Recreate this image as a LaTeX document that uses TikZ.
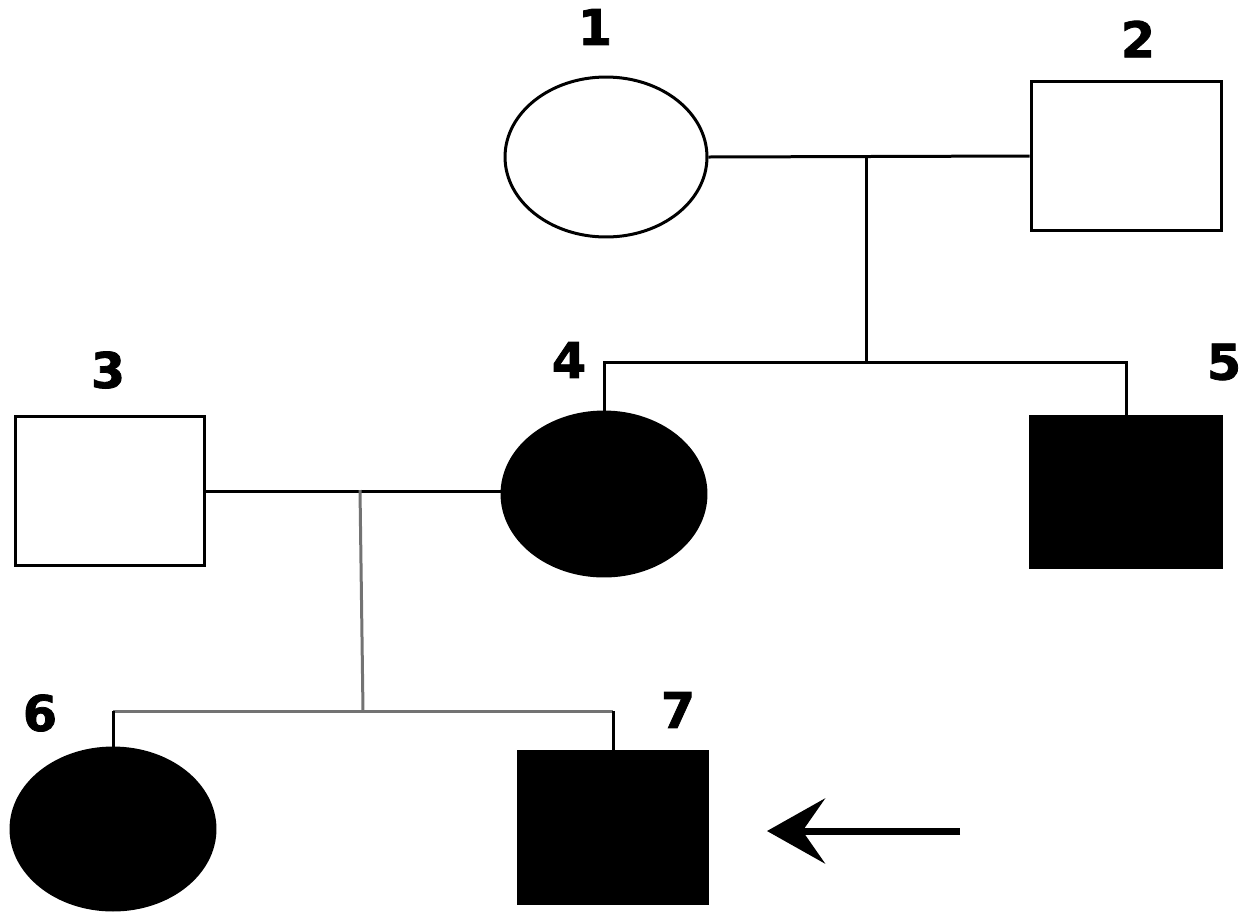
\documentclass[tikz,border=0pt]{standalone}
\usepackage{fontspec}
\setmainfont{DejaVu Sans}
\newfontfamily\labfont{DejaVu Sans Bold}[FakeBold=1.6]
\usetikzlibrary{shapes.geometric,arrows.meta}
\tikzset{
  line/.style={line width=0.06cm, black},
  gline/.style={line width=0.06cm, black!55},
  fem/.style={ellipse, draw, line width=0.06cm, inner sep=0pt, minimum width=4.04cm, minimum height=3.2cm},
  mal/.style={rectangle, draw, line width=0.06cm, inner sep=0pt, minimum width=3.8cm, minimum height=3.0cm},
  aff/.style={fill=black},
  lab/.style={inner sep=0pt, font=\labfont\fontsize{28}{28}\selectfont},
  proband/.style={line width=0.14cm, -{Stealth[length=1.16cm, width=1.3cm, inset=0.45cm]}}
}
\begin{document}
\begin{tikzpicture}[x=0.02cm, y=-0.02cm]
\useasboundingbox (0,0) rectangle (1250,920);
% individuals
\node[fem] (p1) at (606,157) {};
\node[mal] (p2) at (1126,156) {};
\node[mal] (p3) at (110,491) {};
\node[fem, aff, minimum width=4.08cm, minimum height=3.28cm] (p4) at (604,494) {};
\node[mal, aff, minimum width=3.84cm, minimum height=3.04cm] (p5) at (1126,492) {};
\node[fem, aff, minimum width=4.08cm, minimum height=3.24cm] (p6) at (113,829) {};
\node[mal, aff, minimum height=3.04cm] (p7) at (613,827) {};
% labels
\node[lab] (l1) at (595,27) {1};
\node[lab] (l2) at (1138,39) {2};
\node[lab] (l3) at (108,370) {3};
\node[lab] (l4) at (569,360) {4};
\node[lab] (l5) at (1224,362) {5};
\node[lab] (l6) at (40,713) {6};
\node[lab] (l7) at (678,710) {7};
% helper coordinates
\coordinate (c12) at (866,156);
\coordinate (s12) at (866,362);
\coordinate (c34) at (360,490);
\coordinate (s34) at (363,711);
\coordinate (arrT) at (960,831);
\coordinate (arrH) at (767,831);
% connectors
\draw[line] (p1.east) -- (p2.west);
\draw[line] (c12) -- (s12);
\draw[line] (p4.north) -- (p4.north |- s12) -- (p5.north |- s12) -- (p5.north);
\draw[line] (p3.east) -- (p3.east -| p4.west);
\draw[gline] (c34) -- (s34);
\draw[gline] (p6.north |- s34) -- (p7.north |- s34);
\draw[line] (p6.north) -- (p6.north |- s34);
\draw[line] (p7.north) -- (p7.north |- s34);
\draw[proband] (arrT) -- (arrH);
\end{tikzpicture}
\end{document}
